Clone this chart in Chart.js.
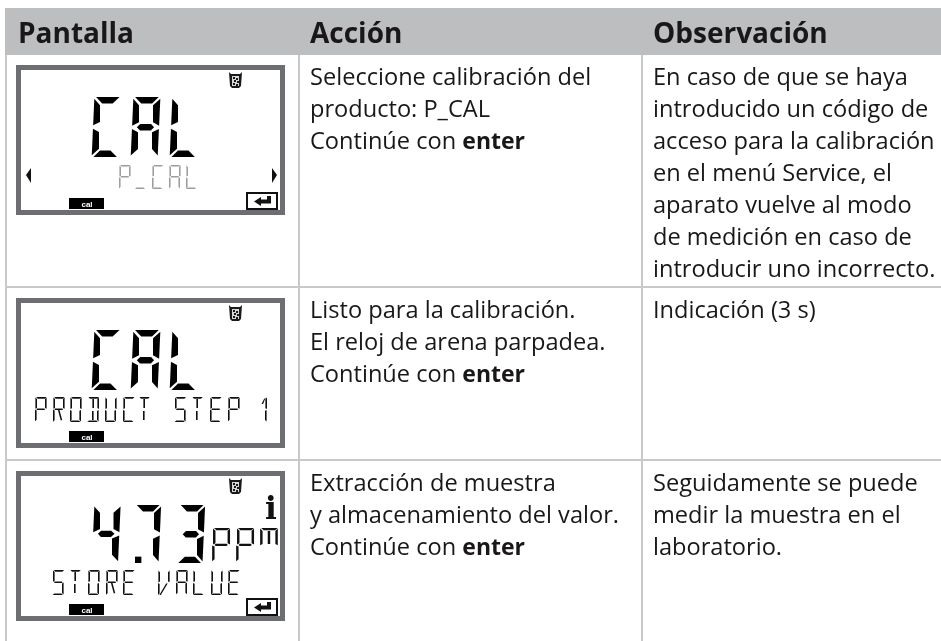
<!DOCTYPE html>
<html lang="es">
<head>
<meta charset="utf-8">
<title>Calibración del producto</title>
<script src="https://cdn.jsdelivr.net/npm/chart.js@4"></script>
<style>
    html, body { margin: 0; padding: 0; background: #fff; }
    canvas { display: block; }
</style>
</head>
<body>
<canvas id="tabla" width="941" height="641" role="img" aria-label="Tabla de calibración del producto: Pantalla, Acción, Observación"></canvas>
<script>
// Textos de la tabla
const columnas = ['Pantalla', 'Acción', 'Observación'];
const acciones = [
    ['Seleccione calibración del', 'producto: P_CAL', 'Continúe con enter'],
    ['Listo para la calibración.', 'El reloj de arena parpadea.', 'Continúe con enter'],
    ['Extracción de muestra', 'y almacenamiento del valor.', 'Continúe con enter']
];
const observaciones = [
    ['En caso de que se haya', 'introducido un código de', 'acceso para la calibración', 'en el menú Service, el', 'aparato vuelve al modo', 'de medición en caso de', 'introducir uno incorrecto.'],
    ['Indicación (3 s)'],
    ['Seguidamente se puede', 'medir la muestra en el', 'laboratorio.']
];

// Textos del display LCD
const lcdGrande = ['CAL', 'CAL', '4.73'];
const lcdPequeno = ['P_CAL', 'PRODUCT STEP 1', 'STORE VALUE'];
const lcdUnidad = ['', '', 'ppm'];
const lcdInfo = ['', '', 'i'];
const lcdEnter = [true, false, true];

// Bordes de la tabla, en unidades de los ejes
const lineasColumna = [6, 299, 642];
const lineasFila = [287, 460];
const bandaEncabezado = [8, 55];

// Posiciones dentro de cada fila
const xColumna = [18, 310, 653];
const primeraLinea = [85, 318, 491];
const ALTO_LINEA = 32;
const topeLcd = [65, 298, 471];
const xPequeno = [118, 34, 52];
const xGrande = [92, 92, 93];

const FUENTE = '"Open Sans", sans-serif';
const COLOR_TEXTO = '#1a1718';
const COLOR_LINEA = '#c8c9cb';
const COLOR_BANDA = '#bcbec0';
const COLOR_MARCO = '#6d6e71';

/**
 * Polígonos de los segmentos del display
 * @returns
 */
var obtenerSegmentos = function(t) {
    const W = 450, H = 1000, M = 500, g = t * 0.25, s = t / 2, c = W / 2;
    return {
        a: [[g, H], [W - g, H], [W - g - t, H - t], [g + t, H - t]],
        d: [[g, 0], [W - g, 0], [W - g - t, t], [g + t, t]],
        g: [[g + s, M], [g + t, M + s], [W - g - t, M + s], [W - g - s, M], [W - g - t, M - s], [g + t, M - s]],
        f: [[0, H - g], [t, H - g - t], [t, M + g + s], [0, M + g]],
        b: [[W, H - g], [W - t, H - g - t], [W - t, M + g + s], [W, M + g]],
        e: [[0, g], [t, g + t], [t, M - g - s], [0, M - g]],
        c: [[W, g], [W - t, g + t], [W - t, M - g - s], [W, M - g]],
        h: [[c - s, H - t - g], [c + s, H - t - g], [c + s, M + s + g], [c - s, M + s + g]],
        i: [[c - s, t + g], [c + s, t + g], [c + s, M - s - g], [c - s, M - s - g]],
        k: [[c - s, M - s], [c + s, M - s], [W - t, t + g], [W - t - t, t + g]],
        v: [[t, g], [t + t, g], [W - t, M - s], [W - t - t, M - s]],
        q: [[W - t, H - g], [W - t - t, H - g - t], [c, 720], [c + t, 720]],
        p: [[W + 35, 0], [W + 140, 0], [W + 140, 105], [W + 35, 105]]
    };
};

// Que segmentos enciende cada caracter
const glifos = {
    ' ': '', '.': 'p', '_': 'd',
    '1': 'bcq', '3': 'abgcd', '4': 'fgbc', '7': 'abc',
    A: 'abcefg', C: 'adef', D: 'abcdhi', E: 'adefg', L: 'def', O: 'abcdef', P: 'abefg',
    R: 'abefgk', S: 'acdfg', T: 'ahi', U: 'bcdef', V: 'fbev',
    m: 'afhb', p: 'abefg'
};

const u16 = v => [(v >> 8) & 255, v & 255];
const u32 = v => [(v >>> 24) & 255, (v >>> 16) & 255, (v >>> 8) & 255, v & 255];

/**
 * Arma una fuente TrueType con los glifos del display, asi el LCD sigue siendo texto
 * @returns
 */
var crearFuenteLcd = function(grosor) {
    const segmentos = obtenerSegmentos(grosor);
    const caracteres = Object.keys(glifos).sort((a, b) => a.codePointAt(0) - b.codePointAt(0));
    const INCLINA = 0.045;
    let glyf = [], loca = [0, 0], hmtx = [0, 0, 0, 0];
    let maxPuntos = 0, maxContornos = 0;

    caracteres.forEach(car => {
        const contornos = glifos[car].split('').map(n => {
            const pts = segmentos[n].map(p => [Math.round(p[0] + p[1] * INCLINA), Math.round(p[1])]);
            let area = 0;
            pts.forEach((p, i) => { const q = pts[(i + 1) % pts.length]; area += p[0] * q[1] - q[0] * p[1]; });
            return area > 0 ? pts.reverse() : pts;
        });
        hmtx.push(...u16(car === '.' ? 0 : 660), 0, 0);
        if (contornos.length) {
            const pts = contornos.flat();
            const xs = pts.map(p => p[0]), ys = pts.map(p => p[1]);
            let fin = -1, g = [...u16(contornos.length), ...u16(Math.min(...xs)), ...u16(Math.min(...ys)), ...u16(Math.max(...xs)), ...u16(Math.max(...ys))];
            contornos.forEach(c => { fin += c.length; g.push(...u16(fin)); });
            g.push(0, 0);
            pts.forEach(() => g.push(1));
            pts.forEach((p, i) => g.push(...u16(p[0] - (i ? pts[i - 1][0] : 0))));
            pts.forEach((p, i) => g.push(...u16(p[1] - (i ? pts[i - 1][1] : 0))));
            while (g.length % 4) g.push(0);
            glyf.push(...g);
            maxPuntos = Math.max(maxPuntos, pts.length);
            maxContornos = Math.max(maxContornos, contornos.length);
        }
        loca.push(glyf.length);
    });

    const n = caracteres.length + 1;
    const cero = k => new Array(k).fill(0);
    const head = [...u32(0x00010000), ...u32(0x00010000), ...u32(0), ...u32(0x5F0F3CF5), ...u16(0), ...u16(1000), ...cero(16),
        ...u16(0), ...u16(0), ...u16(700), ...u16(1000), ...u16(0), ...u16(8), ...u16(2), ...u16(1), ...u16(0)];
    const hhea = [...u32(0x00010000), ...u16(1000), ...u16(-200), ...u16(0), ...u16(660), ...u16(0), ...u16(0), ...u16(700), ...u16(1), ...u16(0), ...u16(0), ...cero(8), ...u16(0), ...u16(n)];
    const maxp = [...u32(0x00010000), ...u16(n), ...u16(maxPuntos), ...u16(maxContornos), ...u16(0), ...u16(0), ...u16(2), ...cero(16)];
    const cmap = [...u16(0), ...u16(1), ...u16(3), ...u16(10), ...u32(12), ...u16(12), ...u16(0), ...u32(16 + 12 * caracteres.length), ...u32(0), ...u32(caracteres.length),
        ...caracteres.flatMap((c, i) => [...u32(c.codePointAt(0)), ...u32(c.codePointAt(0)), ...u32(i + 1)])];
    const os2 = [...u16(0), ...u16(660), ...u16(400), ...u16(5), ...u16(0), ...cero(16), ...cero(4), ...cero(2), ...cero(10), ...cero(16), 76, 67, 68, 32, ...u16(0x40),
        ...u16(32), ...u16(122), ...u16(1000), ...u16(-200), ...u16(0), ...u16(1000), ...u16(200)];
    const nombre = 'Lcd'.split('').flatMap(c => u16(c.charCodeAt(0)));
    const name = [...u16(0), ...u16(2), ...u16(30),
        ...u16(3), ...u16(1), ...u16(0x409), ...u16(1), ...u16(nombre.length), ...u16(0),
        ...u16(3), ...u16(1), ...u16(0x409), ...u16(2), ...u16(nombre.length), ...u16(0), ...nombre];
    const post = [...u32(0x00030000), ...cero(28)];

    const tablas = { 'OS/2': os2, cmap, glyf, head, hhea, hmtx, loca: loca.flatMap(u32), maxp, name, post };
    const etiquetas = Object.keys(tablas);
    let salida = [...u32(0x00010000), ...u16(etiquetas.length), ...u16(128), ...u16(3), ...u16(etiquetas.length * 16 - 128)];
    let cuerpo = [], base = 12 + etiquetas.length * 16;
    etiquetas.forEach(t => {
        salida.push(...t.split('').map(c => c.charCodeAt(0)), ...u32(0), ...u32(base + cuerpo.length), ...u32(tablas[t].length));
        cuerpo.push(...tablas[t]);
        while (cuerpo.length % 4) cuerpo.push(0);
    });
    return new Uint8Array([...salida, ...cuerpo]).buffer;
};

var dibujarVaso = function(ctx, x, y) {
    ctx.fillStyle = '#1a1a1a';
    ctx.beginPath();
    ctx.moveTo(x, y); ctx.lineTo(x + 2, y + 2); ctx.lineTo(x + 11, y + 2); ctx.lineTo(x + 13, y);
    ctx.lineTo(x + 12, y + 14); ctx.lineTo(x + 10, y + 16); ctx.lineTo(x + 3, y + 16); ctx.lineTo(x + 1, y + 14);
    ctx.closePath();
    ctx.fill();
    ctx.fillStyle = '#d9d9d9';
    ctx.fillRect(x + 3, y + 4, 7, 10);
    ctx.fillStyle = '#1a1a1a';
    [[4, 5], [7, 6], [5, 8], [8, 9], [4, 11], [7, 12]].forEach(p => ctx.fillRect(x + p[0], y + p[1], 2, 2));
};

var dibujarFlechas = function(ctx, y) {
    ctx.fillStyle = '#111';
    ctx.beginPath();
    ctx.moveTo(26, y + 110); ctx.lineTo(31, y + 103); ctx.lineTo(31, y + 118);
    ctx.closePath();
    ctx.moveTo(277, y + 110); ctx.lineTo(272, y + 103); ctx.lineTo(272, y + 118);
    ctx.closePath();
    ctx.fill();
};

var dibujarEnter = function(ctx, y) {
    ctx.strokeStyle = '#111';
    ctx.lineWidth = 2;
    ctx.strokeRect(247, y + 128, 30, 16);
    ctx.fillStyle = '#111';
    ctx.beginPath();
    ctx.moveTo(254, y + 136.5); ctx.lineTo(261, y + 132); ctx.lineTo(261, y + 134.5); ctx.lineTo(267, y + 134.5);
    ctx.lineTo(267, y + 131); ctx.lineTo(271, y + 131); ctx.lineTo(271, y + 138.5); ctx.lineTo(261, y + 138.5); ctx.lineTo(261, y + 141);
    ctx.closePath();
    ctx.fill();
};

// Plugin que escribe los textos y el display sobre la grilla
const tablaPlugin = {
    id: 'tablaPlugin',
    afterDatasetsDraw(chart) {
        const ctx = chart.ctx;
        const px = v => chart.scales.x.getPixelForValue(v);
        const py = v => chart.scales.y.getPixelForValue(v);

        ctx.save();
        ctx.textBaseline = 'alphabetic';
        ctx.fillStyle = COLOR_TEXTO;
        ctx.font = 'bold 28px ' + FUENTE;
        columnas.forEach((col, i) => ctx.fillText(col, px(xColumna[i]), py(43)));

        const escribirCelda = (lineas, col, fila) => lineas.forEach((linea, i) => {
            const x = px(xColumna[col]), y = py(primeraLinea[fila] + i * ALTO_LINEA);
            ctx.font = '23.6px ' + FUENTE;
            if (linea.endsWith(' enter')) {
                const inicio = linea.slice(0, -5);
                ctx.fillText(inicio, x, y);
                const ancho = ctx.measureText(inicio).width;
                ctx.font = 'bold 23px ' + FUENTE;
                ctx.fillText('enter', x + ancho, y);
            } else {
                ctx.fillText(linea, x, y);
            }
        });
        acciones.forEach((lineas, f) => escribirCelda(lineas, 1, f));
        observaciones.forEach((lineas, f) => escribirCelda(lineas, 2, f));

        topeLcd.forEach((y0, f) => {
            const y = py(y0);
            ctx.strokeStyle = COLOR_MARCO;
            ctx.lineWidth = 5;
            ctx.strokeRect(18.5, y + 2.5, 264, 145);
            dibujarVaso(ctx, 229, y + 7);

            ctx.fillStyle = '#000';
            ctx.font = (f === 2 ? 58 : 60) + 'px LcdGrueso';
            ctx.letterSpacing = f === 2 ? '3px' : '0px';
            ctx.fillText(lcdGrande[f], xGrande[f], y + 92);

            ctx.fillStyle = f === 0 ? '#9d9ea0' : '#111';
            ctx.font = (f === 0 ? 24 : 25) + 'px LcdFino';
            ctx.letterSpacing = f === 0 ? '0px' : '0.5px';
            ctx.fillText(lcdPequeno[f], xPequeno[f], y + 124);
            ctx.letterSpacing = '0px';

            if (lcdUnidad[f]) {
                // la unidad del display es mas ancha que el resto de los glifos
                ctx.save();
                ctx.fillStyle = '#111';
                ctx.font = '34px LcdFino';
                ctx.letterSpacing = '-1.5px';
                ctx.translate(211, y + 91);
                ctx.scale(1.12, 1);
                ctx.fillText(lcdUnidad[f], 0, 0);
                ctx.restore();
            }
            if (lcdInfo[f]) {
                ctx.fillStyle = '#111';
                ctx.font = 'bold 31px "DejaVu Serif"';
                ctx.fillText(lcdInfo[f], 265, y + 48);
            }
            if (f === 0) dibujarFlechas(ctx, y);
            if (lcdEnter[f]) dibujarEnter(ctx, y);

            ctx.fillStyle = '#000';
            ctx.fillRect(69, y + 133, 35, 11);
            ctx.fillStyle = '#fff';
            ctx.font = 'bold 8px "Liberation Sans"';
            ctx.textAlign = 'center';
            ctx.fillText('cal', 87, y + 141.5);
            ctx.textAlign = 'left';
        });
        ctx.restore();
    }
};

var crearTabla = function() {
    const ejeX = { type: 'linear', min: 5, max: 941, border: { display: false }, ticks: { display: false },
        grid: { color: COLOR_LINEA, lineWidth: 2, drawTicks: false },
        afterBuildTicks: eje => { eje.ticks = lineasColumna.map(v => ({ value: v })); } };
    const ejeY = { type: 'linear', reverse: true, min: 8, max: 641, border: { display: false }, ticks: { display: false },
        grid: { color: COLOR_LINEA, lineWidth: 2, drawTicks: false },
        afterBuildTicks: eje => { eje.ticks = lineasFila.map(v => ({ value: v })); } };

    new Chart(document.getElementById('tabla'), {
        type: 'scatter',
        data: { datasets: [{
            data: [{ x: 5, y: bandaEncabezado[0] }, { x: 941, y: bandaEncabezado[0] }],
            showLine: true,
            pointRadius: 0,
            borderWidth: 0,
            backgroundColor: COLOR_BANDA,
            fill: { value: bandaEncabezado[1] }
        }] },
        options: {
            responsive: false,
            animation: false,
            layout: { padding: { top: 8, left: 5, right: 0, bottom: 0 } },
            plugins: { legend: { display: false }, tooltip: { enabled: false } },
            scales: { x: ejeX, y: ejeY }
        },
        plugins: [tablaPlugin]
    });
};

const fuentes = [new FontFace('LcdGrueso', crearFuenteLcd(110)), new FontFace('LcdFino', crearFuenteLcd(65))];
fuentes.forEach(f => document.fonts.add(f));
Promise.all(fuentes.map(f => f.load())).then(crearTabla, crearTabla);
</script>
</body>
</html>
